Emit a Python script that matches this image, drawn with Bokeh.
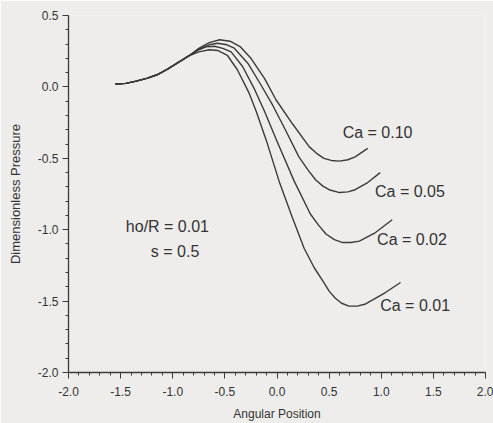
from bokeh.plotting import figure
from bokeh.models import Range1d, FixedTicker
from bokeh.core.properties import value
from bokeh.embed import file_html
from bokeh.resources import INLINE

# Shared start of all curves
x_common = [-1.55, -1.45, -1.35, -1.25, -1.15, -1.05, -0.95, -0.85]
y_common = [0.02, 0.025, 0.04, 0.06, 0.085, 0.125, 0.17, 0.215]

# Ca = 0.10
x_ca010 = [-0.75, -0.65, -0.55, -0.45, -0.35, -0.25, -0.12, -0.01, 0.15, 0.31, 0.38, 0.45, 0.52, 0.60, 0.68, 0.75, 0.87]
y_ca010 = [0.27, 0.31, 0.33, 0.32, 0.28, 0.20, 0.06, -0.09, -0.26, -0.42, -0.465, -0.50, -0.515, -0.52, -0.51, -0.49, -0.43]

# Ca = 0.05
x_ca005 = [-0.75, -0.65, -0.57, -0.48, -0.41, -0.28, -0.155, -0.04, 0.08, 0.21, 0.30, 0.37, 0.44, 0.50, 0.60, 0.68, 0.75, 0.87, 0.99]
y_ca005 = [0.265, 0.295, 0.306, 0.295, 0.271, 0.166, 0.015, -0.13, -0.30, -0.49, -0.585, -0.65, -0.695, -0.72, -0.74, -0.735, -0.72, -0.67, -0.60]

# Ca = 0.02
x_ca002 = [-0.75, -0.68, -0.60, -0.52, -0.44, -0.33, -0.22, -0.12, 0.0, 0.165, 0.32, 0.40, 0.47, 0.55, 0.63, 0.71, 0.79, 0.945, 1.105]
y_ca002 = [0.26, 0.28, 0.285, 0.27, 0.245, 0.143, -0.01, -0.17, -0.38, -0.66, -0.89, -0.97, -1.03, -1.07, -1.09, -1.09, -1.08, -1.02, -0.93]

# Ca = 0.01
x_ca001 = [-0.75, -0.65, -0.57, -0.475, -0.38, -0.27, -0.20, -0.10, 0.02, 0.14, 0.26, 0.36, 0.45, 0.50, 0.56, 0.62, 0.69, 0.77, 0.85, 1.04, 1.185]
y_ca001 = [0.245, 0.26, 0.255, 0.22, 0.12, -0.04, -0.17, -0.38, -0.66, -0.90, -1.13, -1.27, -1.37, -1.43, -1.48, -1.515, -1.535, -1.535, -1.52, -1.44, -1.37]

labels = ["Ca = 0.10", "Ca = 0.05", "Ca = 0.02", "Ca = 0.01"]
label_x = [0.63, 0.94, 0.96, 0.99]
label_y = [-0.32, -0.73, -1.07, -1.53]

note_text = ["ho/R = 0.01", "s = 0.5"]
note_x = [-1.45, -1.21]
note_y = [-0.975, -1.15]

x_ticks = [-2.0, -1.5, -1.0, -0.5, 0.0, 0.5, 1.0, 1.5, 2.0]
y_ticks = [-2.0, -1.5, -1.0, -0.5, 0.0, 0.5]

BG = "#eeedeb"
INK = "#3a3a3a"
FONT = "Liberation Sans"

p = figure(width=493, height=423, output_backend="svg", toolbar_location=None,
           x_range=Range1d(-2.0, 2.0), y_range=Range1d(-2.0, 0.5),
           min_border_left=68, min_border_top=15, min_border_right=8, min_border_bottom=51)
p.background_fill_color = BG
p.border_fill_color = BG
p.outline_line_color = None
p.grid.visible = False

for xs, ys in [(x_ca010, y_ca010), (x_ca005, y_ca005), (x_ca002, y_ca002), (x_ca001, y_ca001)]:
    p.line(x_common + xs, y_common + ys, line_color=INK, line_width=1.4, line_join="round")

p.text(label_x, label_y, text=labels, text_font=value(FONT), text_font_size="16px",
       text_color="#333333", text_align="left", text_baseline="middle")
p.text(note_x, note_y, text=note_text, text_font=value(FONT), text_font_size="16px",
       text_color="#333333", text_align="left", text_baseline="middle")

p.xaxis.ticker = FixedTicker(ticks=x_ticks, minor_ticks=[round(-2.0 + 0.1 * i, 2) for i in range(41)])
p.yaxis.ticker = FixedTicker(ticks=y_ticks, minor_ticks=[round(-2.0 + 0.1 * i, 2) for i in range(26)])
p.xaxis.major_label_overrides = {t: f"{t:.1f}" for t in x_ticks}
p.yaxis.major_label_overrides = {t: f"{t:.1f}" for t in y_ticks}

for ax in (p.xaxis, p.yaxis):
    ax.axis_line_color = INK
    ax.axis_line_width = 1.3
    ax.major_tick_line_color = INK
    ax.minor_tick_line_color = INK
    ax.major_tick_out = 6
    ax.major_tick_in = 0
    ax.minor_tick_out = 3
    ax.minor_tick_in = 0
    ax.major_label_text_font = FONT
    ax.major_label_text_font_size = "12px"
    ax.major_label_text_color = "#333333"
    ax.axis_label_text_font = FONT
    ax.axis_label_text_font_style = "normal"
    ax.axis_label_text_color = "#333333"

p.xaxis.axis_label = "Angular Position"
p.xaxis.axis_label_text_font_size = "12px"
p.xaxis.major_label_standoff = 8
p.xaxis.axis_label_standoff = 8
p.yaxis.axis_label = "Dimensionless Pressure"
p.yaxis.axis_label_text_font_size = "13px"
p.yaxis.major_label_standoff = 4
p.yaxis.axis_label_standoff = 12

open("out.html", "w").write(file_html(p, INLINE))
